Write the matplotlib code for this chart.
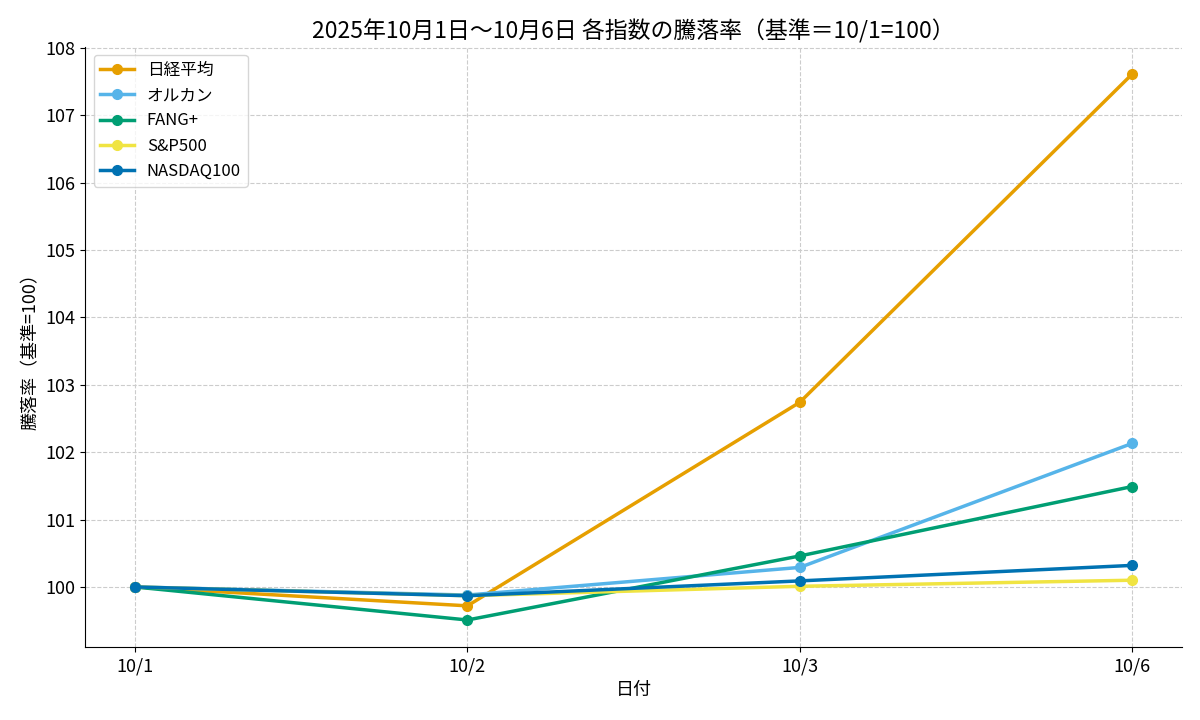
import matplotlib
matplotlib.use("Agg")
import matplotlib.pyplot as plt

plt.rcParams['font.family'] = ['Noto Sans CJK JP', 'DejaVu Sans']

dates = ["10/1", "10/2", "10/3", "10/6"]
nikkei = [100.0, 99.72, 102.74, 107.61]
orcan = [100.0, 99.88, 100.29, 102.13]
fang = [100.0, 99.51, 100.46, 101.49]
sp500 = [100.0, 99.87, 100.01, 100.10]
nasdaq = [100.0, 99.87, 100.09, 100.32]

series = [
    ("日経平均", nikkei, "#E69F00"),
    ("オルカン", orcan, "#56B4E9"),
    ("FANG+", fang, "#009E73"),
    ("S&P500", sp500, "#F0E442"),
    ("NASDAQ100", nasdaq, "#0072B2"),
]

fig = plt.figure(figsize=(12, 7.2), dpi=100)
ax = fig.add_axes([0.071, 0.101, 0.914, 0.834])
x = list(range(len(dates)))
for name, vals, color in series:
    ax.plot(x, vals, marker='o', linewidth=2.5, markersize=7, color=color, label=name)

ax.set_xticks(x)
ax.set_xticklabels(dates)
ax.tick_params(labelsize=13)
ax.set_title("2025年10月1日〜10月6日 各指数の騰落率（基準＝10/1=100）", fontsize=16.5)
ax.set_xlabel("日付", fontsize=13)
ax.set_ylabel("騰落率（基準=100）", fontsize=13)
ax.grid(True, linestyle='--', color='#cccccc', linewidth=0.8)
ax.spines['top'].set_visible(False)
ax.spines['right'].set_visible(False)
ax.legend(loc='upper left', fontsize=12)
fig.savefig("out.png", dpi=100)
